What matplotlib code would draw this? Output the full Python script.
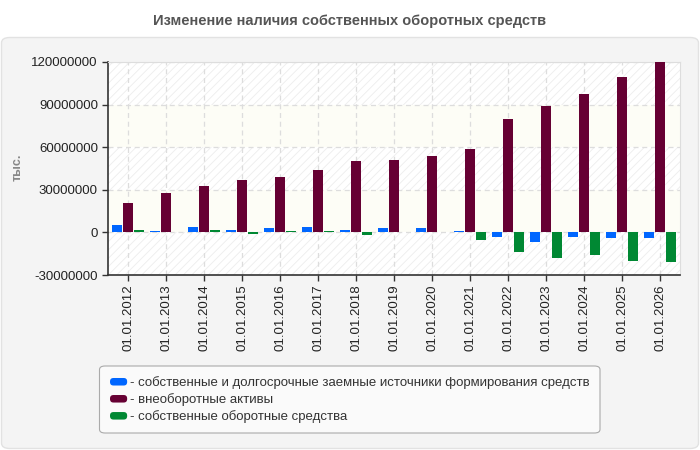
import matplotlib
matplotlib.use("Agg")
import matplotlib.pyplot as plt
import numpy as np
from matplotlib.patches import FancyBboxPatch, Patch
from matplotlib.legend_handler import HandlerPatch

plt.rcParams['font.family'] = ['Liberation Sans', 'DejaVu Sans']
plt.rcParams['hatch.linewidth'] = 0.6

categories = ["01.01.2012", "01.01.2013", "01.01.2014", "01.01.2015", "01.01.2016",
              "01.01.2017", "01.01.2018", "01.01.2019", "01.01.2020", "01.01.2021",
              "01.01.2022", "01.01.2023", "01.01.2024", "01.01.2025", "01.01.2026"]
own_longterm = [5200000, 1000000, 3800000, 1600000, 3100000, 3800000, 1900000, 3100000,
                3100000, 1000000, -3300000, -6800000, -3300000, -4000000, -4000000]
noncurrent = [20700000, 27800000, 32700000, 36900000, 39100000, 44000000, 50400000, 51100000,
              53900000, 58800000, 80000000, 89200000, 97600000, 109600000, 121000000]
working_capital = [1600000, 500000, 1600000, -1200000, 1000000, 1000000, -1900000, 300000,
                   300000, -5400000, -13900000, -18100000, -16000000, -20200000, -20900000]
series_labels = ["- собственные и долгосрочные заемные источники формирования средств",
                 "- внеоборотные активы",
                 "- собственные оборотные средства"]
colors = ["#0066ff", "#660033", "#008833"]
yticks = [-30000000, 0, 30000000, 60000000, 90000000, 120000000]
title = "Изменение наличия собственных оборотных средств"
ylabel = "тыс."

W, H = 700, 450
fig = plt.figure(figsize=(7, 4.5), dpi=100)
fig.patch.set_facecolor("white")

# outer panel
panel = FancyBboxPatch((1.5 / W, 1 - 448.5 / H), 697 / W, 411 / H,
                       boxstyle="round,pad=0,rounding_size=0.012",
                       transform=fig.transFigure, facecolor="#f4f4f4",
                       edgecolor="#e2e2e2", linewidth=1, zorder=-5)
fig.patches.append(panel)

# legend box
lbox = FancyBboxPatch((99.5 / W, 1 - 433 / H), 500.5 / W, 67 / H,
                      boxstyle="round,pad=0,rounding_size=0.008",
                      transform=fig.transFigure, facecolor="#fafafa",
                      edgecolor="#aaaaaa", linewidth=0.8, zorder=-4)
fig.patches.append(lbox)

fig.text(0.5, 1 - 21 / H, title, ha="center", va="center", fontsize=10.5,
         fontweight="bold", color="#555555")

ax = fig.add_axes([108.3 / W, 1 - 275 / H, (680 - 108.3) / W, (275 - 62) / H])
ax.set_zorder(2)
ax.set_facecolor("white")

# background bands
for i, (lo, hi) in enumerate(zip(yticks[:-1], yticks[1:])):
    if i % 2 == 0:
        ax.axhspan(lo, hi, facecolor="white", edgecolor="#ededed", hatch="////",
                   linewidth=0, zorder=0)
    else:
        ax.axhspan(lo, hi, facecolor="#fdfdf6", edgecolor="none", linewidth=0, zorder=0)

x = np.arange(len(categories))
w = 10 / 38
off = 11 / 38
for k, (vals, c) in enumerate(zip([own_longterm, noncurrent, working_capital], colors)):
    ax.bar(x + (k - 1) * off, vals, width=w, color=c, zorder=3, label=series_labels[k])

ax.set_xlim(-0.526, 14.52)
ax.set_ylim(-30000000, 120000000)
ax.set_yticks(yticks)
ax.set_yticklabels([str(t) for t in yticks])
ax.set_xticks(x)
ax.set_xticklabels(categories, rotation=90)
ax.tick_params(axis="both", labelsize=9.5, colors="#333333", labelcolor="#222222",
               length=4, width=1, direction="out")
ax.tick_params(axis="x", pad=3)

ax.grid(True, color="#dddddd", linestyle=(0, (4, 3)), linewidth=0.9, zorder=1)
ax.set_axisbelow(True)
for s in ["top", "right"]:
    ax.spines[s].set_color("#dddddd")
for s in ["left", "bottom"]:
    ax.spines[s].set_color("#333333")
    ax.spines[s].set_linewidth(1.2)

fig.text(18 / W, 1 - 167 / H, ylabel, rotation=90, ha="center", va="center",
         fontsize=9, fontweight="bold", color="#888888")


def make_round(legend, orig_handle, xdescent, ydescent, width, height, fontsize):
    return FancyBboxPatch((-xdescent, -ydescent), width, height,
                          boxstyle="round,pad=0,rounding_size=2.5",
                          facecolor=orig_handle.get_facecolor(), edgecolor="#888888",
                          linewidth=0.4)


handles = [Patch(facecolor=c) for c in colors]
leg = fig.legend(handles, series_labels, loc="upper left",
                 bbox_to_anchor=(110 / W, 1 - 376.5 / H), borderaxespad=0,
                 fontsize=9.5, frameon=False, handlelength=1.3,
                 handleheight=0.5, handletextpad=0.2, labelspacing=0.31,
                 borderpad=0, handler_map={Patch: HandlerPatch(patch_func=make_round)})
leg.set_zorder(3)
for t in leg.get_texts():
    t.set_color("#333333")

fig.savefig("out.png", dpi=100)
